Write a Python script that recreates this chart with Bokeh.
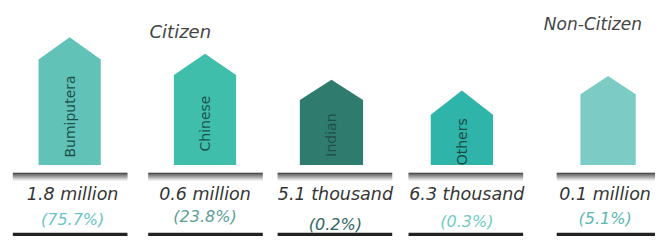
from bokeh.plotting import figure
from bokeh.models import Range1d, ColumnDataSource
from bokeh.embed import file_html
from bokeh.resources import INLINE
from bokeh.core.properties import value

# ---- data ----
groups = ["Citizen", "Non-Citizen"]
categories = ["Bumiputera", "Chinese", "Indian", "Others", "Non-Citizen"]
house_heights = [109, 93, 67, 52, 73]          # wall height of each house (visual)
counts = ["1.8 million", "0.6 million", "5.1 thousand", "6.3 thousand", "0.1 million"]
shares = ["(75.7%)", "(23.8%)", "(0.2%)", "(0.3%)", "(5.1%)"]

# ---- layout / style ----
centers = [70, 207, 335, 467, 615]
widths = [63, 63, 64, 63, 56]
roofs = [23, 22, 21, 25, 19]
house_colors = ["#61c3b8", "#3fbfab", "#2f7c6f", "#2fb4a9", "#7ccbc5"]
label_colors = ["#1d4f49", "#1d534d", "#1f4d47", "#1a4c46", "#000000"]
bar_centers = [70.5, 207.5, 338.5, 471, 621]
text_centers = [73, 207, 339, 472, 612]
bar_width = 116
pct_y = [-56, -53, -62, -58, -55]
pct_colors = ["#6cc4c8", "#5a9f98", "#2f6660", "#72cbc3", "#5cb8b0"]
FONT = "DejaVu Sans"

p = figure(width=655, height=236, output_backend="svg", toolbar_location=None,
           x_range=Range1d(0, 663), y_range=Range1d(-74, 170),
           min_border=0, x_axis_location=None, y_axis_location=None,
           outline_line_color=None, background_fill_color="white",
           border_fill_color="white")
p.grid.visible = False

# houses
xs, ys = [], []
for c, w, h, r in zip(centers, widths, house_heights, roofs):
    xs.append([c - w / 2, c - w / 2, c, c + w / 2, c + w / 2])
    ys.append([0, h, h + r, h, 0])
p.patches(xs=xs, ys=ys, fill_color=house_colors, line_color=None)

# rotated labels inside houses
lab = ColumnDataSource(dict(x=centers[:4], y=[h * 0.46 for h in house_heights[:4]],
                            t=categories[:4], c=label_colors[:4]))
p.text(x="x", y="y", text="t", source=lab, angle=1.5708, text_align="center",
       text_baseline="middle", text_color="c", text_font=value(FONT),
       text_font_size="14px")

# separator bars with gradient
shades = ["#1e1e1e", "#333333", "#4d4d4d", "#686868", "#848484", "#a2a2a2", "#c2c2c2", "#e0e0e0"]
for i, col in enumerate(shades):
    top = -8 - i
    p.quad(left=[b - bar_width / 2 for b in bar_centers],
           right=[b + bar_width / 2 for b in bar_centers],
           top=top, bottom=top - 1, fill_color=col, line_color=None)

# bottom bars
p.quad(left=[b - bar_width / 2 for b in bar_centers],
       right=[b + bar_width / 2 for b in bar_centers],
       top=-70, bottom=-75, fill_color="#222222", line_color=None)

# counts
p.text(x=text_centers, y=[-30] * 5, text=counts, text_align="center",
       text_baseline="middle", text_color="#353535", text_font=value(FONT),
       text_font_style="italic", text_font_size="17.5px")

# shares
p.text(x=text_centers, y=pct_y, text=shares, text_align="center",
       text_baseline="middle", text_color=pct_colors, text_font=value(FONT),
       text_font_style="italic", text_font_size="16px")

# group titles
p.text(x=[182], y=[138], text=[groups[0]], text_align="center", text_baseline="middle",
       text_color="#444444", text_font=value(FONT), text_font_style="italic",
       text_font_size="18px")
p.text(x=[550], y=[146], text=[groups[1]], text_align="left", text_baseline="middle",
       text_color="#444444", text_font=value(FONT), text_font_style="italic",
       text_font_size="17px")

open("out.html", "w").write(file_html(p, INLINE))
